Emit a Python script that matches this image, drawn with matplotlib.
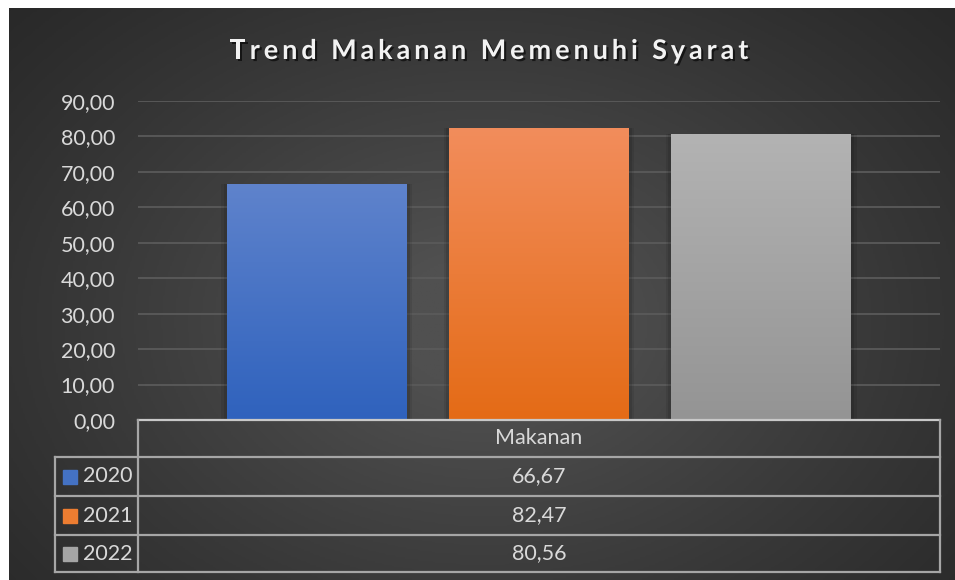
# Trend Makanan Memenuhi Syarat - bar chart with data table, dark Excel-style look.
import matplotlib.pyplot as plt
import matplotlib.patheffects as pe
from matplotlib.colors import LinearSegmentedColormap
import numpy as np

CATEGORY = "Makanan"
YEARS = ["2020", "2021", "2022"]
VALUES = [66.67, 82.47, 80.56]
Y_TICKS = [0, 10, 20, 30, 40, 50, 60, 70, 80, 90]
TITLE = "Trend Makanan Memenuhi Syarat"

# top / bottom gradient colours per series
BAR_COLORS = [
    ("#5f83cc", "#2f62bd"),
    ("#f28d5c", "#e46b16"),
    ("#b3b3b3", "#949494"),
]
LEGEND_COLORS = ["#4472c4", "#ed7d31", "#a5a5a5"]

TEXT = "#d9d9d9"
LINE = "#a6a6a6"
FONT = ["Lato", "DejaVu Sans"]
FS = 15.5

W, H = 955, 580


def fmt(v):
    return f"{v:.2f}".replace(".", ",")


def spaced_title(fig, text, xc, yc, spacing, **kw):
    # draw the title letter by letter so it can be letter-spaced like the original
    r = fig.canvas.get_renderer()
    widths = []
    for ch in text:
        t = fig.text(0, 0, "x" + ch + "x", **kw)
        t2 = fig.text(0, 0, "xx", **kw)
        widths.append(t.get_window_extent(r).width - t2.get_window_extent(r).width)
        t.remove()
        t2.remove()
    total = sum(widths) + spacing * (len(text) - 1)
    x = xc - total / 2
    for ch, w in zip(text, widths):
        fig.text(x / W, yc, ch, ha="left", va="center", **kw)
        x += w + spacing


def main():
    plt.rcParams["font.family"] = FONT
    fig = plt.figure(figsize=(W / 100, H / 100), dpi=100, facecolor="white")

    # background with soft radial gradient
    bg = fig.add_axes([9 / W, 0, (W - 9) / W, (H - 8) / H], zorder=0)
    yy, xx = np.mgrid[0:1:300j, 0:1:500j]
    r = np.sqrt(((xx - 0.5) / 0.75) ** 2 + ((yy - 0.55) / 0.9) ** 2)
    shade = np.clip(1 - r, 0, 1) ** 1.2
    bg_cmap = LinearSegmentedColormap.from_list("bg", ["#262626", "#505050"])
    bg.imshow(shade, cmap=bg_cmap, aspect="auto", extent=[0, 1, 0, 1], vmin=0, vmax=0.85)
    bg.set_axis_off()

    # plot area: pixels x 138..940, y 101..420
    ax = fig.add_axes([138 / W, (H - 420) / H, (940 - 138) / W, (420 - 101) / H], zorder=1)
    ax.set_facecolor("none")
    xs = np.arange(len(VALUES)) - 1
    width = 0.81
    bars = ax.bar(xs, VALUES, width=width, color=LEGEND_COLORS, zorder=3)
    for bar, (top, bottom) in zip(bars, BAR_COLORS):
        cmap = LinearSegmentedColormap.from_list("g", [bottom, top])
        x0 = bar.get_x()
        h = bar.get_height()
        im = ax.imshow(np.linspace(0, 1, 256).reshape(-1, 1), cmap=cmap, origin="lower",
                       extent=[x0, x0 + bar.get_width(), 0, h], aspect="auto", zorder=4)
        im.set_clip_path(bar)
        bar.set_path_effects([
            pe.SimplePatchShadow(offset=(4, 0), shadow_rgbFace="black", alpha=0.08),
            pe.SimplePatchShadow(offset=(-4, 0), shadow_rgbFace="black", alpha=0.08),
            pe.SimplePatchShadow(offset=(2, 0), shadow_rgbFace="black", alpha=0.1),
            pe.SimplePatchShadow(offset=(-2, 0), shadow_rgbFace="black", alpha=0.1),
            pe.Normal()])

    ax.set_xlim(-1.806, 1.806)
    ax.set_ylim(0, 90)
    ax.set_yticks(Y_TICKS)
    ax.set_yticklabels([fmt(t) for t in Y_TICKS], color=TEXT, fontsize=FS)
    ax.tick_params(axis="y", length=0, pad=16.5)
    ax.set_xticks([])
    for s in ax.spines.values():
        s.set_visible(False)
    ax.grid(axis="y", color="#5a5a5a", linewidth=1.3, zorder=1)
    ax.set_axisbelow(True)

    # title
    spaced_title(fig, TITLE, 489, 1 - 51 / H, 3.9, color="#f2f2f2", fontsize=19.5,
                 fontweight="bold",
                 path_effects=[pe.withSimplePatchShadow(offset=(1.5, -1.5),
                                                        shadow_rgbFace="black", alpha=0.6)])

    # data table drawn in pixel coordinates
    tb = fig.add_axes([0, 0, 1, 1], zorder=2)
    tb.set_xlim(0, W)
    tb.set_ylim(H, 0)
    tb.set_axis_off()
    tb.set_facecolor("none")
    rows = [420, 457, 496, 535, 572]
    lw = 1.6
    tb.plot([138, 940], [rows[0], rows[0]], color="#c8c8c8", lw=lw)
    for y in rows[1:]:
        tb.plot([55, 940], [y, y], color=LINE, lw=lw)
    tb.plot([138, 138], [rows[0], rows[-1]], color=LINE, lw=lw)
    tb.plot([55, 55], [rows[1], rows[-1]], color=LINE, lw=lw)
    tb.plot([940, 940], [rows[0], rows[-1]], color=LINE, lw=lw)

    mid = (138 + 940) / 2
    tb.text(mid, (rows[0] + rows[1]) / 2, CATEGORY, ha="center", va="center",
            color=TEXT, fontsize=FS)
    for i, (year, val) in enumerate(zip(YEARS, VALUES)):
        yc = (rows[i + 1] + rows[i + 2]) / 2
        tb.text(mid, yc, fmt(val), ha="center", va="center", color=TEXT, fontsize=FS)
        tb.add_patch(plt.Rectangle((63, yc - 7), 14, 14, color=LEGEND_COLORS[i]))
        tb.text(83, yc, year, ha="left", va="center", color=TEXT, fontsize=FS)

    fig.savefig("out.png", dpi=100, facecolor="white")


if __name__ == "__main__":
    main()
